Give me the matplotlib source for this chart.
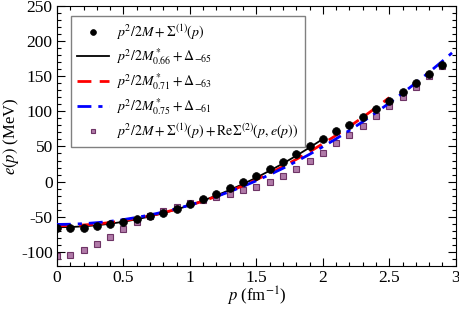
import matplotlib
matplotlib.use('Agg')
import matplotlib.pyplot as plt
from matplotlib.ticker import MultipleLocator

plt.rcParams['font.family'] = ['Liberation Serif', 'DejaVu Serif']
plt.rcParams['mathtext.fontset'] = 'stix'
plt.rcParams['axes.unicode_minus'] = False

# momentum grid for the points (fm^-1)
p_pts = [0.0, 0.1, 0.2, 0.3, 0.4, 0.5, 0.6, 0.7, 0.8, 0.9,
         1.0, 1.1, 1.2, 1.3, 1.4, 1.5, 1.6, 1.7, 1.8, 1.9,
         2.0, 2.1, 2.2, 2.3, 2.4, 2.5, 2.6, 2.7, 2.8, 2.9]

# p^2/2M + Sigma1
e_hf = [-66, -66, -65.5, -63.5, -61, -57.5, -53.5, -49, -44, -38.5,
        -32, -25, -17, -9, 0, 8.5, 18, 28, 39, 50,
        61, 72, 81, 92, 103, 115, 127, 140, 153, 166]

# p^2/2M + Sigma1 + Re Sigma2
e_2nd = [-106, -104, -98, -89, -79, -68, -58, -49, -42, -35.5,
         -30, -25.5, -22, -17.5, -12.5, -7.5, -0.8, 7.5, 18.5, 30,
         41, 54.5, 67, 79.5, 93, 107, 121, 135, 150, 164.5]

# effective mass fits
p_black = [0.0, 0.1, 0.2, 0.3, 0.4, 0.5, 0.6, 0.7, 0.8, 0.9, 1.0,
           1.1, 1.2, 1.3, 1.4, 1.5, 1.6, 1.7, 1.8, 1.9, 2.0]
e_black = [-65, -64.7, -63.7, -62.2, -60.0, -57.2, -53.7, -49.6, -44.9, -39.6, -33.6,
           -27.0, -19.8, -11.9, -3.5, 5.7, 15.4, 25.7, 36.7, 48.4, 60.6]

p_red = [0.0, 0.1, 0.2, 0.3, 0.4, 0.5, 0.6, 0.7, 0.8, 0.9, 1.0, 1.1, 1.2,
         1.3, 1.4, 1.5, 1.6, 1.7, 1.8, 1.9, 2.0, 2.1, 2.2, 2.3, 2.4, 2.5]
e_red = [-63, -62.7, -61.8, -60.4, -58.3, -55.7, -52.5, -48.7, -44.3, -39.3, -33.8, -27.7, -21.0,
         -13.7, -5.8, 2.7, 11.8, 21.4, 31.6, 42.4, 53.8, 65.8, 78.3, 91.5, 105.2, 119.5]

p_blue = [0.0, 0.1, 0.2, 0.3, 0.4, 0.5, 0.6, 0.7, 0.8, 0.9, 1.0, 1.1, 1.2, 1.3, 1.4, 1.5,
          1.6, 1.7, 1.8, 1.9, 2.0, 2.1, 2.2, 2.3, 2.4, 2.5, 2.6, 2.7, 2.8, 2.9, 3.0]
e_blue = [-61, -60.7, -59.9, -58.5, -56.6, -54.1, -51.0, -47.5, -43.3, -38.6, -33.4, -27.6, -21.2,
          -14.3, -6.8, 1.2, 9.8, 18.9, 28.6, 38.8, 49.6, 60.9, 72.8, 85.2, 98.2, 111.8,
          125.8, 140.5, 155.7, 171.5, 187.8]

fig = plt.figure(figsize=(4.59, 3.11), dpi=100)
ax = fig.add_axes([0.124, 0.145, 0.869, 0.836])

ax.plot(p_pts, e_hf, 'o', color='black', markersize=5.6, markeredgewidth=0.5,
        label=r'$p^2/2M + \Sigma^{(1)}(p)$', zorder=4)
ax.plot(p_black, e_black, '-', color='black', lw=1.3,
        label=r'$p^2/2M^*_{0.66} + \Delta_{-65}$', zorder=3)
ax.plot(p_red, e_red, '--', color='#ff0000', lw=2, dashes=(5, 3),
        label=r'$p^2/2M^*_{0.71} + \Delta_{-63}$', zorder=3)
ax.plot(p_blue, e_blue, '-.', color='#0000ff', lw=2, dashes=(5, 2.5, 1.5, 2.5),
        label=r'$p^2/2M^*_{0.75} + \Delta_{-61}$', zorder=3)
ax.plot(p_pts, e_2nd, 's', color='#b07aa8', markeredgecolor='#6e3466',
        markeredgewidth=0.8, markersize=4.3,
        label=r'$p^2/2M + \Sigma^{(1)}(p) + \mathrm{Re}\Sigma^{(2)}(p,e(p))$', zorder=2)

ax.set_xlim(0, 3)
ax.set_ylim(-120, 250)
ax.xaxis.set_major_locator(MultipleLocator(0.5))
ax.xaxis.set_minor_locator(MultipleLocator(0.1))
ax.yaxis.set_major_locator(MultipleLocator(50))
ax.yaxis.set_minor_locator(MultipleLocator(10))
ax.set_xticks([0, 0.5, 1, 1.5, 2, 2.5, 3])
ax.set_xticklabels(['0', '0.5', '1', '1.5', '2', '2.5', '3'])
ax.tick_params(which='both', direction='in', top=True, right=True, labelsize=12.5)
ax.tick_params(which='major', length=6, width=0.8, pad=3)
ax.tick_params(which='minor', length=3, width=0.8)

ax.set_xlabel(r'$p$ (fm$^{-1}$)', fontsize=12, labelpad=-1)
ax.set_ylabel(r'$e(p)$ (MeV)', fontsize=12)
ax.yaxis.set_label_coords(-0.09, 0.5)

leg = ax.legend(loc='upper left', bbox_to_anchor=(0.035, 0.962), borderaxespad=0,
                fontsize=10, fancybox=False, framealpha=1, edgecolor='#808080',
                handlelength=2.3, labelspacing=0.33, borderpad=0.45, handletextpad=0.5,
                markerscale=0.75)
leg.get_frame().set_linewidth(1.0)

fig.savefig('out.png', dpi=100)
